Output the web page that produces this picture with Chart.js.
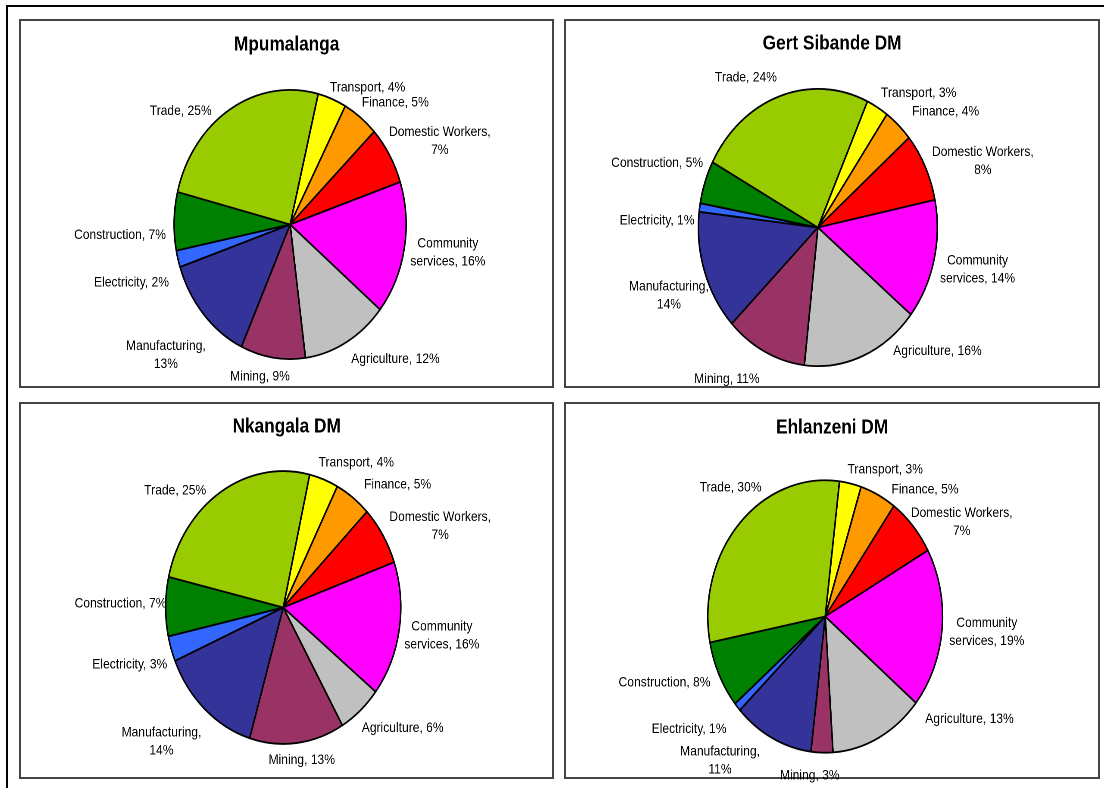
<!DOCTYPE html>
<html>
<head>
<meta charset="utf-8">
<title>Employment by sector - Mpumalanga districts</title>
<script src="https://cdn.jsdelivr.net/npm/chart.js@4.4.1/dist/chart.umd.min.js"></script>
<style>
  html, body { margin: 0; padding: 0; background: #fff; }
  body { width: 1104px; height: 788px; overflow: hidden; position: relative; }
  #frame { position: absolute; left: 6px; top: 5px; width: 1200px; height: 1000px;
           border-top: 2px solid #000; border-left: 2px solid #000; }
  .panel { position: absolute; box-sizing: border-box; border: 2px solid #444; background: #fff; }
  canvas { position: absolute; transform-origin: 0 0; }
</style>
</head>
<body>
<div id="frame"></div>
<script>
// sectors in the order they are drawn, clockwise from the top
var sectors = ['Transport', 'Finance', 'Domestic Workers', 'Community services', 'Agriculture',
  'Mining', 'Manufacturing', 'Electricity', 'Construction', 'Trade'];
var sectorColours = ['#ffff00', '#ff9900', '#ff0000', '#ff00ff', '#c0c0c0',
  '#993366', '#333399', '#3366ff', '#008000', '#99cc00'];

// share of employment, %
var mpumalanga = [4, 5, 7, 16, 12, 9, 13, 2, 7, 25];
var gertSibande = [3, 4, 8, 14, 16, 11, 14, 1, 5, 24];
var nkangala = [4, 5, 7, 16, 6, 13, 14, 3, 7, 25];
var ehlanzeni = [3, 5, 7, 19, 13, 3, 11, 1, 8, 30];

var SX = 0.862;      // the charts are printed squeezed horizontally
var LINE_H = 18;
var FONT = '"Liberation Sans", Arial, sans-serif';

// box = [left, top, width, height] of each framed chart on the page
var panels = [
  { title: 'Mpumalanga', values: mpumalanga, box: [19, 19, 535, 369], rotation: 14, radius: 134.6,
    padding: { left: 8, right: 0, top: 28, bottom: 0 }, titleY: 26,
    nudges: [[-4, 3], [-2, -1], [-5, 7], [1, 3], [2, 3], [-12, 4], [6, 19], [-4, 22], [-3, 14], [-16, 16]] },
  { title: 'Gert Sibande DM', values: gertSibande, box: [564, 19, 536, 369], rotation: 24.5, radius: 138.6,
    padding: { left: 0, right: 33, top: 34, bottom: 0 }, titleY: 25,
    nudges: [[1, 0], [10, 0], [2, -3], [1, 8], [28, -19], [-3, 13], [9, 22], [0, 14], [3, -17], [-1, -4]] },
  { title: 'Nkangala DM', values: nkangala, box: [19, 402, 535, 377], rotation: 13, radius: 136.4,
    padding: { left: 0, right: 8, top: 20, bottom: 0 }, titleY: 25,
    nudges: [[-7, -2], [8, 1], [2, 12], [0, 5], [-2, 4], [4, 2], [0, 10], [1, 14], [6, -3], [-12, 13]] },
  { title: 'Ehlanzeni DM', values: ehlanzeni, box: [564, 402, 536, 377], rotation: 7, radius: 136.2,
    padding: { left: 0, right: 16, top: 38, bottom: 0 }, titleY: 26,
    nudges: [[-4, 1], [11, 9], [-6, 18], [2, 3], [44, -33], [-12, 8], [-10, -1], [-7, 9], [-4, 5], [26, -23]] }
];

function labelLines(name, value) {
  var pct = value + '%';
  if (name === 'Domestic Workers') return ['Domestic Workers,', pct];
  if (name === 'Community services') return ['Community', 'services, ' + pct];
  if (name === 'Manufacturing') return ['Manufacturing,', pct];
  return [name + ', ' + pct];
}

// title and "Sector, x%" labels just outside each slice
function makeLabels(panel) {
  return {
    id: 'sliceLabels',
    afterDatasetsDraw: function(chart) {
      var ctx = chart.ctx;
      var meta = chart.getDatasetMeta(0);
      var values = chart.data.datasets[0].data;
      ctx.save();
      ctx.fillStyle = '#000';
      ctx.textAlign = 'center';
      ctx.textBaseline = 'middle';
      ctx.font = '14px ' + FONT;
      meta.data.forEach(function(arc, i) {
        var lines = labelLines(chart.data.labels[i], values[i]);
        var w = Math.max.apply(null, lines.map(function(l) { return ctx.measureText(l).width; }));
        var h = lines.length * LINE_H;
        var mid = (arc.startAngle + arc.endAngle) / 2;
        var dx = Math.cos(mid), dy = Math.sin(mid);
        var r = arc.outerRadius + 6;
        var x = arc.x + r * dx, y = arc.y + r * dy;
        if (dx > 0.2) x += w / 2; else if (dx < -0.2) x -= w / 2;
        if (dy < -0.5) y -= h / 2; else if (dy > 0.5) y += h / 2;
        var n = panel.nudges[i];
        x += n[0] / SX;
        y += n[1];
        lines.forEach(function(line, k) {
          ctx.fillText(line, x, y + (k - (lines.length - 1) / 2) * LINE_H);
        });
      });
      ctx.font = 'bold 20px ' + FONT;
      ctx.fillText(panel.title, chart.width / 2, panel.titleY);
      ctx.restore();
    }
  };
}

panels.forEach(function(p) {
  var frame = document.createElement('div');
  frame.className = 'panel';
  frame.style.left = p.box[0] + 'px';
  frame.style.top = p.box[1] + 'px';
  frame.style.width = p.box[2] + 'px';
  frame.style.height = p.box[3] + 'px';
  document.body.appendChild(frame);

  var canvas = document.createElement('canvas');
  canvas.width = Math.round(p.box[2] / SX);
  canvas.height = p.box[3] + 14;
  canvas.style.left = p.box[0] + 'px';
  canvas.style.top = p.box[1] + 'px';
  canvas.style.transform = 'scaleX(' + SX + ')';
  document.body.appendChild(canvas);

  new Chart(canvas, {
    type: 'pie',
    data: {
      labels: sectors,
      datasets: [{
        data: p.values,
        backgroundColor: sectorColours,
        borderColor: '#000',
        borderWidth: 1.8
      }]
    },
    options: {
      responsive: false,
      animation: false,
      events: [],
      devicePixelRatio: 2,
      rotation: p.rotation,
      radius: p.radius,
      layout: { padding: p.padding },
      plugins: {
        legend: { display: false },
        tooltip: { enabled: false },
        title: { display: false }
      }
    },
    plugins: [makeLabels(p)]
  });
});
</script>
</body>
</html>
